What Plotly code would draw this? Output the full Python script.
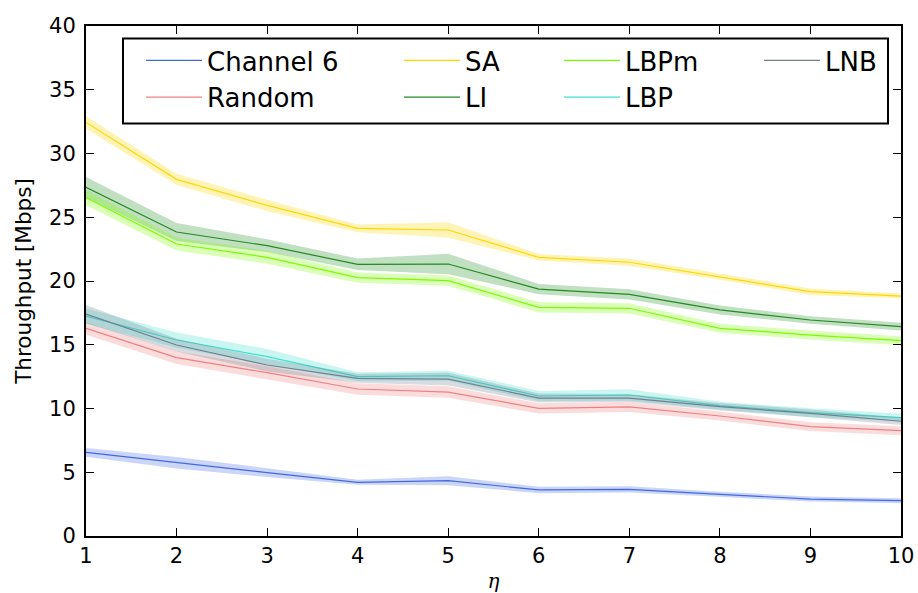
import plotly.graph_objects as go

eta = [1, 2, 3, 4, 5, 6, 7, 8, 9, 10]

names = ["Channel 6", "Random", "SA", "LI", "LBPm", "LBP", "LNB"]

ch6 = [6.56, 5.75, 4.97, 4.21, 4.34, 3.61, 3.66, 3.27, 2.90, 2.77]
ch6_err = [0.35, 0.45, 0.35, 0.2, 0.35, 0.25, 0.25, 0.2, 0.2, 0.2]

rnd = [16.29, 13.99, 12.81, 11.53, 11.29, 10.01, 10.12, 9.41, 8.58, 8.26]
rnd_err = [0.5, 0.5, 0.5, 0.45, 0.45, 0.4, 0.4, 0.35, 0.35, 0.35]

sa = [32.44, 27.97, 25.93, 24.13, 24.0, 21.86, 21.47, 20.34, 19.16, 18.82]
sa_err = [0.5, 0.45, 0.45, 0.3, 0.6, 0.25, 0.3, 0.25, 0.25, 0.2]

li = [27.35, 23.84, 22.77, 21.31, 21.33, 19.37, 18.95, 17.73, 16.94, 16.42]
li_err = [0.8, 0.7, 0.5, 0.45, 0.8, 0.4, 0.4, 0.35, 0.3, 0.3]

lbpm = [26.54, 22.9, 21.86, 20.26, 20.03, 17.93, 17.86, 16.29, 15.76, 15.32]
lbpm_err = [0.6, 0.5, 0.5, 0.4, 0.4, 0.4, 0.4, 0.35, 0.35, 0.35]

lbp = [17.25, 15.37, 14.07, 12.5, 12.57, 10.98, 11.06, 10.22, 9.67, 9.28]
lbp_err = [0.6, 0.6, 0.6, 0.35, 0.4, 0.4, 0.45, 0.3, 0.35, 0.3]

lnb = [17.41, 14.98, 13.41, 12.37, 12.31, 10.82, 10.82, 10.14, 9.62, 9.0]
lnb_err = [0.7, 0.5, 0.5, 0.35, 0.5, 0.35, 0.3, 0.3, 0.3, 0.3]

x_ticks = [1, 2, 3, 4, 5, 6, 7, 8, 9, 10]
y_ticks = [0, 5, 10, 15, 20, 25, 30, 35, 40]

series = [ch6, rnd, sa, li, lbpm, lbp, lnb]
errs = [ch6_err, rnd_err, sa_err, li_err, lbpm_err, lbp_err, lnb_err]
colors = [(65, 105, 225), (240, 128, 128), (255, 215, 0), (34, 139, 34),
          (124, 252, 0), (64, 224, 208), (112, 128, 144)]
legend_ids = ["legend", "legend", "legend2", "legend2", "legend3", "legend3", "legend4"]

fig = go.Figure()
for name, y, e, c, lg in zip(names, series, errs, colors, legend_ids):
    upper = [v + d for v, d in zip(y, e)]
    lower = [v - d for v, d in zip(y, e)]
    fig.add_trace(go.Scatter(
        x=eta + eta[::-1], y=upper + lower[::-1], fill="toself",
        fillcolor="rgba(%d,%d,%d,0.28)" % c, line=dict(width=0),
        mode="lines", showlegend=False, hoverinfo="skip"))
    fig.add_trace(go.Scatter(
        x=eta, y=y, mode="lines", name=name,
        line=dict(color="rgb(%d,%d,%d)" % c, width=1.2), legend=lg))

font = dict(family="DejaVu Sans", size=21, color="black")
labfont = dict(family="DejaVu Sans", size=21.5, color="black")
legfont = dict(family="DejaVu Sans", size=26, color="black")

axis_common = dict(showline=True, linecolor="black", linewidth=2, mirror="ticks",
                   ticks="inside", ticklen=8, tickwidth=1, tickcolor="black",
                   showgrid=False, zeroline=False, tickfont=font, automargin=False)

L, R, T, B = 86, 17, 26, 57
W, H = 918, 593
pw = W - L - R
ph = H - T - B

def px_x(p):
    return (p - L) / pw

def px_y(p):
    return (H - B - p) / ph

leg_common = dict(font=legfont, bgcolor="rgba(0,0,0,0)", borderwidth=0,
                  xanchor="left", yanchor="top", orientation="v",
                  itemwidth=56, tracegroupgap=0)

ly = 37
dx = 8
fig.update_layout(
    width=W, height=H,
    margin=dict(l=L, r=R, t=T, b=B),
    plot_bgcolor="white", paper_bgcolor="white",
    xaxis=dict(range=[1, 10], tickvals=x_ticks, **axis_common,
               title=dict(text="<i>η</i>", font=dict(family="DejaVu Serif", size=20, color="black"),
                          standoff=8)),
    yaxis=dict(range=[0, 40], tickvals=y_ticks, ticklabelstandoff=4, **axis_common,
               title=dict(text="Throughput [Mbps]", font=labfont, standoff=12)),
    legend=dict(x=px_x(133 + dx), y=px_y(ly), **leg_common),
    legend2=dict(x=px_x(391 + dx), y=px_y(ly), **leg_common),
    legend3=dict(x=px_x(551 + dx), y=px_y(ly), **leg_common),
    legend4=dict(x=px_x(751 + dx), y=px_y(ly), **leg_common),
    shapes=[dict(type="rect", xref="paper", yref="paper",
                 x0=px_x(123), x1=px_x(888), y0=px_y(123.5), y1=px_y(38.5),
                 line=dict(color="black", width=2), fillcolor="rgba(0,0,0,0)")],
)

fig.write_html("out.html", config={"displayModeBar": False})
with open("out.html", encoding="utf-8") as f:
    html = f.read()
html = html.replace("<head>", "<head><style>html,body{margin:0;padding:0;overflow:hidden;}</style>", 1)
with open("out.html", "w", encoding="utf-8") as f:
    f.write(html)
